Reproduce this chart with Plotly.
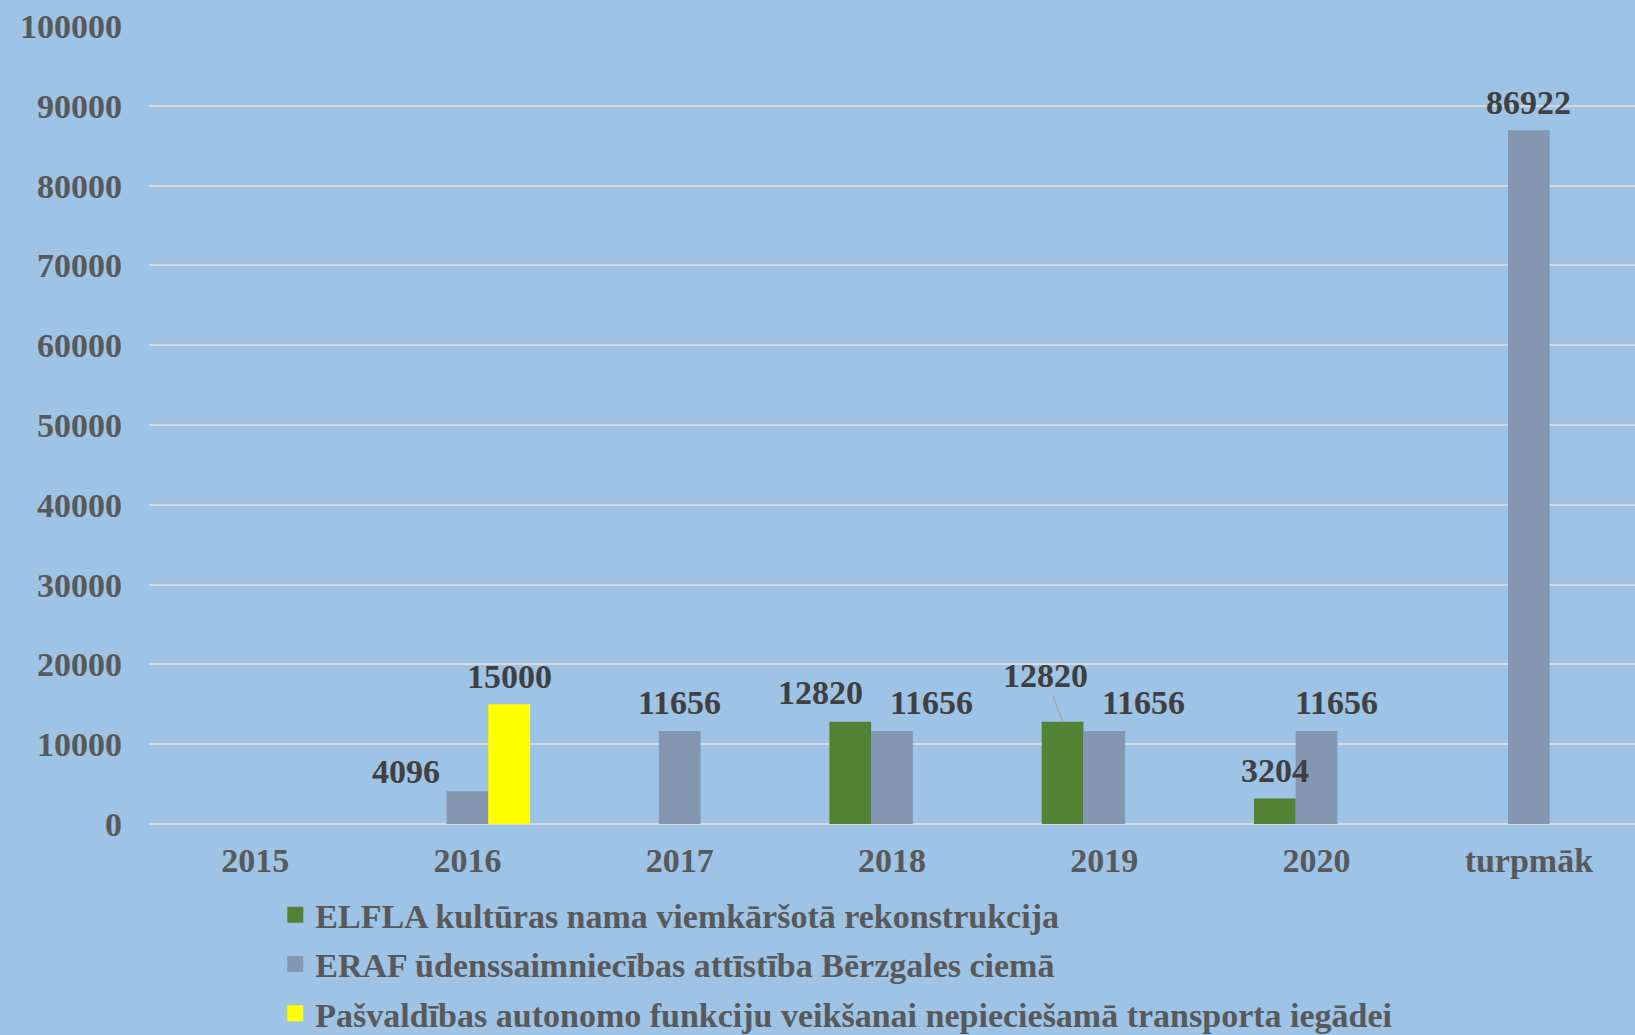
import plotly.graph_objects as go

categories = ["2015", "2016", "2017", "2018", "2019", "2020", "turpmāk"]
elfla = [None, None, None, 12820, 12820, 3204, None]
eraf = [None, 4096, 11656, 11656, 11656, 11656, 86922]
pasv = [None, 15000, None, None, None, None, None]

series_names = [
    "ELFLA kultūras nama viemkāršotā rekonstrukcija",
    "ERAF ūdenssaimniecības attīstība Bērzgales ciemā",
    "Pašvaldības autonomo funkciju veikšanai nepieciešamā transporta iegādei",
]
colors = ["#548235", "#8497B0", "#FFFF00"]
y_ticks = [0, 10000, 20000, 30000, 40000, 50000, 60000, 70000, 80000, 90000, 100000]

W, H = 1635, 1035
ML, MR, MT, MB = 149, 0, 26, 211
BARGAP = 0.41
cat_px = (W - ML - MR) / len(categories)
bar_px = cat_px * (1 - BARGAP) / 3
offsets = [-bar_px, 0, bar_px]

# label displacement (series index, category index) -> (dx, dy up) in pixels
label_shift = {
    (1, 1): (-61, 20),
    (2, 1): (0, 28),
    (1, 2): (0, 28),
    (0, 3): (-30, 29),
    (1, 3): (39, 28),
    (1, 4): (39, 28),
    (0, 5): (0, 28),
    (1, 5): (20, 28),
    (1, 6): (0, 28),
}
leader = {(0, 4): (-17, -46)}

FONT = "Liberation Serif"
FS = 34
fig = go.Figure()
for i, (vals, name, col) in enumerate(zip([elfla, eraf, pasv], series_names, colors)):
    fig.add_trace(go.Bar(
        x=categories, y=vals, name=name,
        marker=dict(color=col, line=dict(width=0)),
        showlegend=False,
    ))
# legend entries with larger square keys
for i, (name, col) in enumerate(zip(series_names, colors)):
    fig.add_trace(go.Scatter(
        x=[None], y=[None], name=name, mode="markers",
        marker=dict(symbol="square", size=16, color=col, line=dict(width=0)),
        legendgroup=str(i), showlegend=True,
    ))

annotations = []
for i, vals in enumerate([elfla, eraf, pasv]):
    for j, v in enumerate(vals):
        if v is None:
            continue
        txt = str(v)
        if (i, j) in leader:
            ax, ay = leader[(i, j)]
            annotations.append(dict(
                x=j, y=v, xref="x", yref="y", text=txt,
                showarrow=True, arrowhead=0, arrowwidth=1.5, arrowcolor="#A6A6A6",
                ax=ax, ay=ay, xshift=offsets[i], standoff=0,
                font=dict(family=FONT, size=FS, color="#404040", weight="bold"),
            ))
        else:
            dx, dy = label_shift[(i, j)]
            annotations.append(dict(
                x=j, y=v, xref="x", yref="y", text=txt,
                showarrow=False, xanchor="center", yanchor="middle",
                xshift=offsets[i] + dx, yshift=dy,
                font=dict(family=FONT, size=FS, color="#404040", weight="bold"),
            ))

fig.update_layout(
    width=W, height=H,
    margin=dict(l=ML, r=MR, t=MT, b=MB, autoexpand=False),
    paper_bgcolor="#9DC3E6", plot_bgcolor="#9DC3E6",
    barmode="group", bargap=BARGAP, bargroupgap=0,
    font=dict(family=FONT, size=FS, color="#595959", weight="bold"),
    showlegend=True,
    legend=dict(
        orientation="v", x=0.085, xanchor="left", y=-0.078, yanchor="top",
        bgcolor="rgba(0,0,0,0)", font=dict(family=FONT, size=FS, color="#595959", weight="bold"),
        traceorder="grouped", tracegroupgap=2, itemsizing="trace",
    ),
    annotations=annotations,
)
fig.update_xaxes(
    type="category", categoryorder="array", categoryarray=categories,
    range=[-0.5, len(categories) - 0.5], autorange=False, automargin=False,
    showgrid=False, showline=False, ticks="", ticklabelstandoff=13,
    tickfont=dict(family=FONT, size=FS, color="#595959", weight="bold"),
)
fig.update_yaxes(
    range=[0, 100000], autorange=False, automargin=False,
    tickvals=y_ticks, ticktext=[str(t) for t in y_ticks],
    showgrid=True, gridcolor="#D9D9D9", gridwidth=2,
    zeroline=True, zerolinecolor="#D9D9D9", zerolinewidth=2,
    showline=False, ticks="", ticklabelstandoff=26,
    tickfont=dict(family=FONT, size=FS, color="#595959", weight="bold"),
)

fig.write_html(
    "out.html",
    config={"displayModeBar": False},
    post_script="document.body.style.margin='0';document.body.style.background='#9DC3E6';",
)
